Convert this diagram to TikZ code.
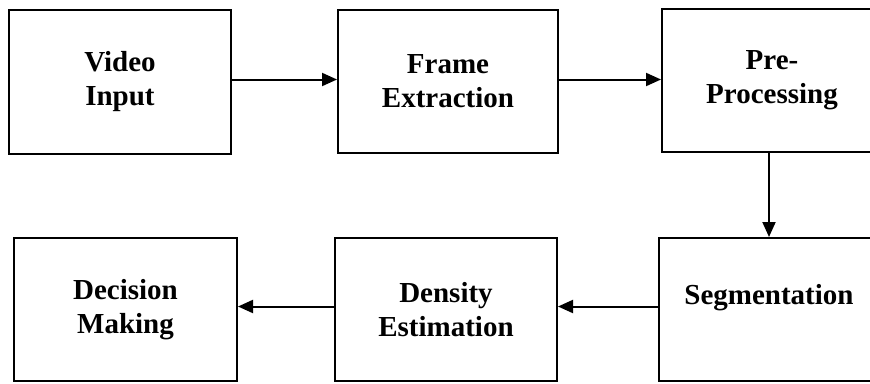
\documentclass[tikz,border=0pt]{standalone}
\usepackage{fontspec}
\setmainfont{Liberation Serif}
\usetikzlibrary{arrows.meta}

\begin{document}
\begin{tikzpicture}[x=1pt, y=-1pt,
          blk/.style={draw, line width=2pt, minimum width=220pt, minimum height=143pt,
                      align=center, inner sep=0pt,
                      font=\fontsize{29}{34}\selectfont\bfseries},
          arr/.style={line width=2pt, -{Triangle[length=15pt,width=13pt]}}]
        \useasboundingbox (0,0) rectangle (870,383);
        \node[blk, minimum width=222pt, minimum height=144pt] (vin) at (120,81.5) {Video\\Input};
        \node[blk] (fext) at (448,81.5) {Frame\\Extraction};
        \node[blk] (prep) at (772,80) {Pre-\\Processing};
        \node[blk] (seg) at (769,309.5) {Segmentation\\[-14pt]\strut};
        \node[blk, minimum width=222pt] (dens) at (446,309.5) {Density\\Estimation};
        \node[blk, minimum width=223pt] (dec) at (125.5,309.5) {Decision\\Making};
        \draw[arr] ([yshift=2pt]vin.east) -- ([yshift=2pt]fext.west);
        \draw[arr] ([yshift=2pt]fext.east) -- ([yshift=2pt]fext.east -| prep.west);
        \draw[arr] (prep.south -| seg.north) -- (seg.north);
        \draw[arr] ([yshift=3pt]seg.west) -- ([yshift=3pt]dens.east);
        \draw[arr] ([yshift=3pt]dens.west) -- ([yshift=3pt]dec.east);
\end{tikzpicture}
\end{document}
